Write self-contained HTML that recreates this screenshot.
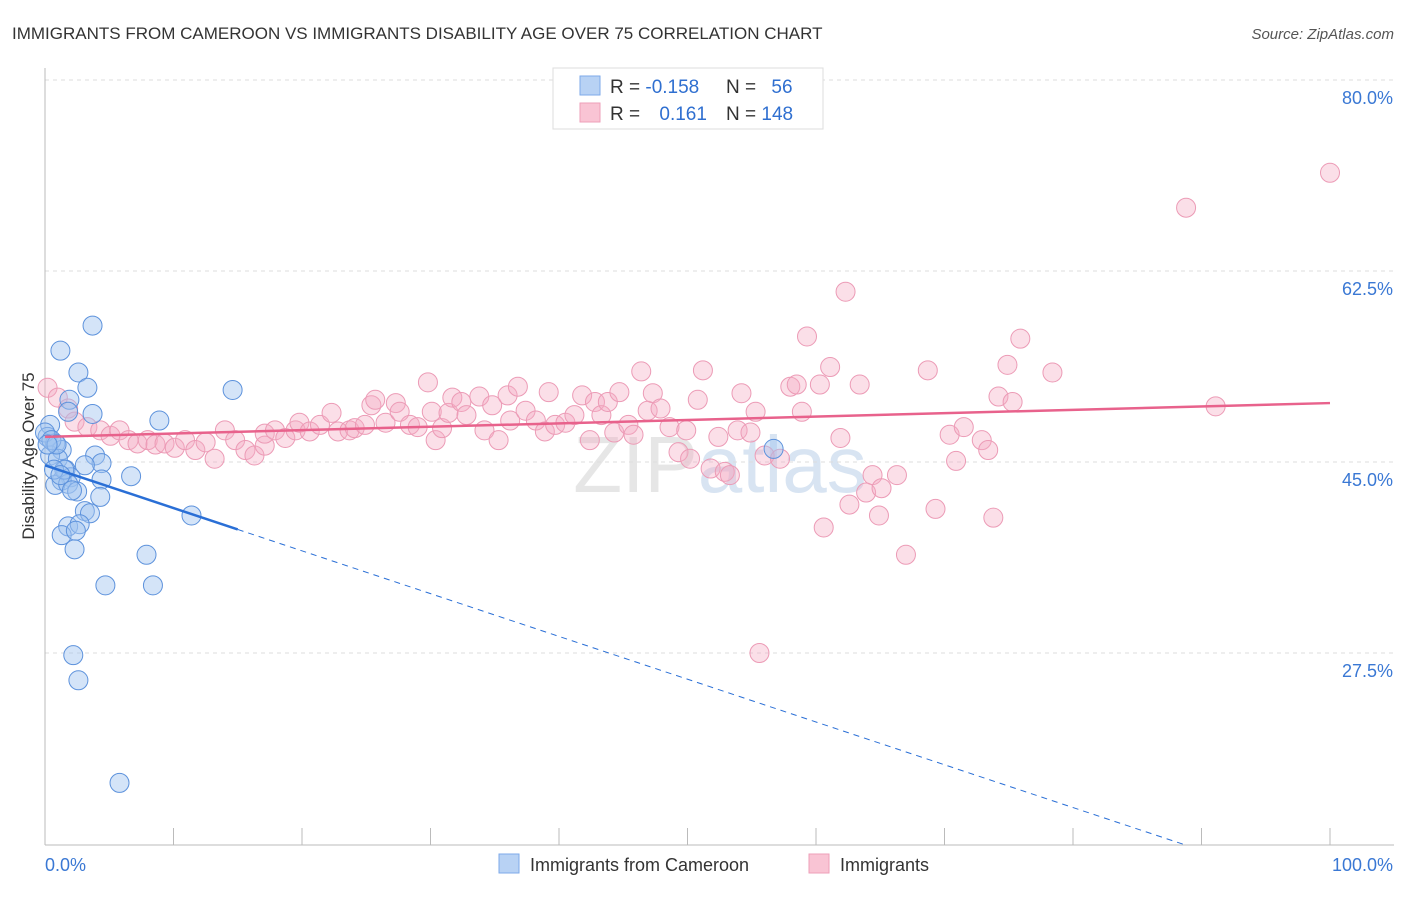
<!DOCTYPE html>
<html><head><meta charset="utf-8"><style>
body{margin:0;background:#fff;font-family:"Liberation Sans",sans-serif;}
svg text{font-family:"Liberation Sans",sans-serif;}
</style></head><body>
<svg id="chart" width="1406" height="892" xmlns="http://www.w3.org/2000/svg">
<text x="12" y="39" font-size="17" fill="#333">IMMIGRANTS FROM CAMEROON VS IMMIGRANTS DISABILITY AGE OVER 75 CORRELATION CHART</text>
<text x="1394" y="39" font-size="15" fill="#555" text-anchor="end" font-style="italic">Source: ZipAtlas.com</text>
<text x="720" y="492" font-size="80" fill="#e6e6e6" text-anchor="middle" font-family="Liberation Serif">ZIP<tspan fill="#d8e4f2" font-family="Liberation Sans">atlas</tspan></text>
<g id="grid"></g>
<g id="axes"></g>
<g id="pink"></g>
<g id="blue"></g>
<g id="trends"></g>
<text transform="translate(34,456) rotate(-90)" font-size="17" fill="#333" text-anchor="middle">Disability Age Over 75</text>
<g>
<rect x="553" y="68" width="270" height="61" fill="#fff" stroke="#ddd"/>
<rect x="580" y="76" width="20" height="19" fill="#b8d2f4" stroke="#7eaaea"/>
<rect x="580" y="103" width="20" height="19" fill="#f9c4d4" stroke="#ee9fb9"/>
<text x="610" y="93" font-size="19" fill="#333">R = <tspan fill="#2f6fd0">-0.158</tspan></text>
<text x="726" y="93" font-size="19" fill="#333">N = <tspan fill="#2f6fd0" dx="10">56</tspan></text>
<text x="610" y="120" font-size="19" fill="#333">R = <tspan fill="#2f6fd0" dx="14">0.161</tspan></text>
<text x="726" y="120" font-size="19" fill="#333">N = <tspan fill="#2f6fd0">148</tspan></text>
</g>
<g>
<rect x="499" y="854" width="20" height="19" fill="#b8d2f4" stroke="#7eaaea"/>
<text x="530" y="871" font-size="18" fill="#333">Immigrants from Cameroon</text>
<rect x="809" y="854" width="20" height="19" fill="#f9c4d4" stroke="#ee9fb9"/>
<text x="840" y="871" font-size="18" fill="#333">Immigrants</text>
</g>
</svg>
<script>
const yTicks=[80,62.5,45,27.5];
const yTickLabels=["80.0%","62.5%","45.0%","27.5%"];
const xTicks=[0,10,20,30,40,50,60,70,80,90,100];
const blueX=[3.7,1.2,2.6,3.3,14.6,1.9,8.9,3.7,1.8,0.4,0.2,0.8,1.3,0.4,1.0,3.9,4.4,3.1,1.6,2.0,1.3,0.8,1.8,4.4,6.7,2.5,4.3,3.1,3.5,11.4,1.8,2.7,1.3,2.4,2.3,7.9,4.7,8.4,2.2,2.6,5.8,56.7,0,0.5,0.9,1.5,0.7,1.2,0.2,2.1];
const blueY=[57.5,55.2,53.2,51.8,51.6,50.7,48.8,49.4,49.6,48.4,47.3,46.7,46.1,45.6,45.3,45.6,44.9,44.7,44.3,43.6,43.3,42.9,43.0,43.4,43.7,42.3,41.8,40.5,40.3,40.1,39.1,39.3,38.3,38.7,37.0,36.5,33.7,33.7,27.3,25.0,15.6,46.2,47.7,47.0,46.6,44.3,44.3,43.8,46.6,42.4];
const pinkX=[0.2,1.0,1.8,2.3,3.3,4.3,5.1,5.8,6.5,7.2,8.0,8.6,9.3,10.1,10.9,11.7,12.5,13.2,14.0,14.8,15.6,16.3,17.1,17.1,17.9,18.7,19.5,19.8,20.6,21.4,22.3,22.8,23.7,24.1,24.9,25.4,25.7,26.5,27.3,27.6,28.4,29.0,29.8,30.1,30.4,30.9,31.4,31.7,32.4,32.8,33.8,34.2,34.8,35.3,36.0,36.2,36.8,37.4,38.2,38.9,39.2,39.7,40.5,41.2,41.8,42.4,42.8,43.3,43.8,44.3,44.7,45.4,45.8,46.4,46.9,47.3,47.9,48.6,49.3,49.9,50.2,50.8,51.2,51.8,52.4,52.9,53.3,53.9,54.2,54.9,55.3,56.0,57.2,55.6,58.0,58.5,58.9,59.3,60.3,60.6,61.1,61.9,62.3,62.6,63.4,63.9,64.4,64.9,65.1,66.3,67.0,68.7,69.3,70.4,70.9,71.5,72.9,73.4,73.8,74.2,74.9,75.3,75.9,78.4,88.8,91.1,100];
const pinkY=[51.8,50.9,49.9,48.7,48.2,47.9,47.4,47.9,47.0,46.7,47.0,46.6,46.7,46.3,47.0,46.1,46.8,45.3,47.9,47.0,46.1,45.6,46.5,47.6,47.9,47.2,47.9,48.6,47.8,48.4,49.5,47.8,47.9,48.1,48.4,50.2,50.7,48.6,50.4,49.6,48.4,48.2,52.3,49.6,47.0,48.1,49.5,50.9,50.5,49.3,51.0,47.9,50.2,47.0,51.1,48.8,51.9,49.7,48.8,47.8,51.4,48.4,48.6,49.3,51.1,47.0,50.5,49.3,50.5,47.7,51.4,48.4,47.5,53.3,49.7,51.3,49.9,48.2,45.9,47.9,45.3,50.7,53.4,44.4,47.3,44.1,43.8,47.9,51.3,47.7,49.6,45.6,45.3,27.5,51.9,52.1,49.6,56.5,52.1,39.0,53.7,47.2,60.6,41.1,52.1,42.2,43.8,40.1,42.6,43.8,36.5,53.4,40.7,47.5,45.1,48.2,47.0,46.1,39.9,51.0,53.9,50.5,56.3,53.2,68.3,50.1,71.5];
const pinkTrend=[47.3,50.4];      // value at x=0 and x=100
const blueTrend=[44.7,-0.392];    // intercept, slope
const blueSolidEnd=15;
const yMin=9.9;

const NS="http://www.w3.org/2000/svg";
const X0=45,X1=1330,YT=80,YB=845;
const sx=p=>X0+p*(X1-X0)/100;
const sy=v=>YT+(80-v)*191/17.5;
function mk(tag,attrs,parent){const e=document.createElementNS(NS,tag);for(const k in attrs)e.setAttribute(k,attrs[k]);parent.appendChild(e);return e;}
const grid=document.getElementById('grid'),axes=document.getElementById('axes');
yTicks.forEach((t,i)=>{
  const l=mk('line',{x1:X0,x2:1394,y1:sy(t),y2:sy(t),stroke:'#ddd','stroke-dasharray':'4,4'},grid);
  
  
  const tx=mk('text',{x:1393,y:sy(t)+24,'font-size':18,fill:'#3a78d4','text-anchor':'end'},axes);
  tx.textContent=yTickLabels[i];
  
  
});
const ax=mk('line',{x1:X0,x2:X0,y1:68,y2:YB,stroke:'#bbb'},axes);


const bx=mk('line',{x1:X0,x2:1394,y1:YB,y2:YB,stroke:'#bbb'},axes);


xTicks.forEach(t=>{
  const l=mk('line',{x1:sx(t),x2:sx(t),y1:828,y2:YB,stroke:'#bbb'},axes);
  
  
});
const xl0=mk('text',{x:45,y:871,'font-size':18,fill:'#3a78d4'},axes);xl0.textContent='0.0%';


const xl1=mk('text',{x:1393,y:871,'font-size':18,fill:'#3a78d4','text-anchor':'end'},axes);xl1.textContent='100.0%';


const pg=document.getElementById('pink');
pinkX.forEach((x,i)=>{
  const c=mk('circle',{cx:sx(x),cy:sy(pinkY[i]),r:9.5,fill:'rgba(244,170,195,0.38)',stroke:'#ec9bb6','stroke-width':1},pg);
  
  
});
const bg=document.getElementById('blue');
blueX.forEach((x,i)=>{
  const c=mk('circle',{cx:sx(x),cy:sy(blueY[i]),r:9.5,fill:'rgba(160,196,240,0.45)',stroke:'#5d92dc','stroke-width':1},bg);
  
  
});
const tg=document.getElementById('trends');
const pl=mk('line',{x1:sx(0),y1:sy(pinkTrend[0]),x2:sx(100),y2:sy(pinkTrend[1]),stroke:'#e8628c','stroke-width':2.5},tg);


const bAt=x=>blueTrend[0]+blueTrend[1]*x;
const bEnd=(yMin-blueTrend[0])/blueTrend[1];
const bl=mk('line',{x1:sx(0),y1:sy(bAt(0)),x2:sx(blueSolidEnd),y2:sy(bAt(blueSolidEnd)),stroke:'#2a6fd6','stroke-width':2.5},tg);


const bd=mk('line',{x1:sx(blueSolidEnd),y1:sy(bAt(blueSolidEnd)),x2:sx(bEnd),y2:sy(bAt(bEnd)),stroke:'#2a6fd6','stroke-width':1,'stroke-dasharray':'6,5'},tg);


</script>
</body></html>
